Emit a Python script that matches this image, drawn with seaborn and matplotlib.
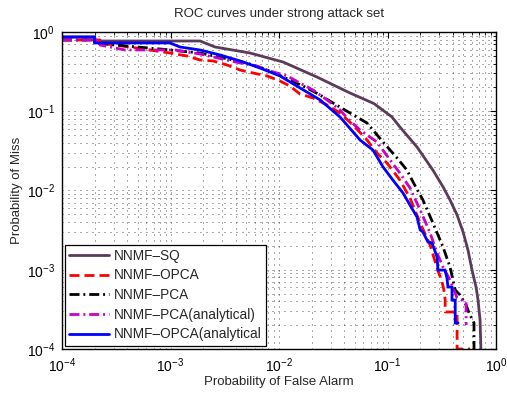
import matplotlib
matplotlib.use("Agg")
import matplotlib.pyplot as plt
import seaborn as sns
import pandas as pd

# ROC operating points: probability of false alarm vs probability of miss
sq_fa = [1e-4, 2.0e-4, 2.0e-4, 1.87e-3, 2.57e-3, 5.4e-3, 0.0109, 0.0224, 0.0451, 0.075,
         0.110, 0.130, 0.187, 0.262, 0.325, 0.377, 0.438, 0.497, 0.552, 0.601, 0.655,
         0.683, 0.713, 0.726]
sq_miss = [0.865, 0.865, 0.77, 0.77, 0.647, 0.543, 0.418, 0.270, 0.170, 0.125,
           0.0846, 0.0633, 0.0354, 0.0181, 0.0111, 0.00759, 0.0049, 0.0030, 0.00177,
           0.00099, 0.000605, 0.000415, 0.000232, 1e-4]

opca_fa = [1e-4, 2.24e-4, 2.24e-4, 5.6e-4, 9.9e-4, 1.42e-3, 1.87e-3, 2.47e-3, 3.32e-3,
           4.38e-3, 5.75e-3, 7.74e-3, 0.0102, 0.0126, 0.0156, 0.0206, 0.0277, 0.0365,
           0.0481, 0.0647, 0.080, 0.0988, 0.130, 0.161, 0.200, 0.247, 0.286, 0.318,
           0.331, 0.340, 0.340, 0.438, 0.438, 0.575]
opca_miss = [0.793, 0.793, 0.727, 0.61, 0.543, 0.498, 0.443, 0.431, 0.383,
             0.331, 0.304, 0.279, 0.241, 0.208, 0.165, 0.147, 0.120, 0.095,
             0.067, 0.0434, 0.0297, 0.0222, 0.01356, 0.00804, 0.00389, 0.00205, 0.00105, 0.0007,
             0.000555, 0.00042, 0.000293, 0.000293, 1e-4, 1e-4]

pca_fa = [1e-4, 2.0e-4, 2.0e-4, 4.9e-4, 8.0e-4, 1.87e-3, 5.07e-3, 8.26e-3, 0.0126, 0.0181,
          0.0239, 0.0315, 0.0451, 0.0647, 0.091, 0.1225, 0.151, 0.172, 0.212, 0.262,
          0.325, 0.377, 0.421, 0.466, 0.530, 0.564, 0.627, 0.627]
pca_miss = [0.793, 0.793, 0.727, 0.647, 0.61, 0.543, 0.406, 0.322, 0.248, 0.197,
            0.160, 0.127, 0.095, 0.0711, 0.0409, 0.0257, 0.0181, 0.0128, 0.00759, 0.00389,
            0.00194, 0.00108, 0.000555, 0.00048, 0.000359, 0.000285, 0.000213, 1e-4]

pca_an_fa = [1e-4, 2.24e-4, 2.24e-4, 3.81e-4, 1.1e-3, 1.87e-3, 4.38e-3, 6.27e-3, 8.26e-3,
             0.0119, 0.0156, 0.0206, 0.0277, 0.0365, 0.0424, 0.0558, 0.080, 0.1055,
             0.130, 0.161, 0.200, 0.247, 0.286, 0.325, 0.377, 0.438, 0.530, 0.530]
pca_an_miss = [0.793, 0.793, 0.685, 0.593, 0.593, 0.527, 0.406, 0.372, 0.322,
               0.279, 0.227, 0.185, 0.139, 0.104, 0.0822, 0.058, 0.0409, 0.0243,
               0.0166, 0.0108, 0.00568, 0.00291, 0.00163, 0.00108, 0.000743, 0.00044, 0.00039,
               0.000201]

opca_an_fa = [1e-4, 2.0e-4, 2.0e-4, 9.9e-4, 1.22e-3, 1.87e-3, 2.86e-3, 4.38e-3, 6.68e-3,
              0.0102, 0.0156, 0.0239, 0.0365, 0.0558, 0.0734, 0.091, 0.112, 0.139, 0.161,
              0.187, 0.200, 0.212, 0.236, 0.257, 0.286, 0.292, 0.339, 0.353, 0.361, 0.393,
              0.393, 0.421, 0.421, 0.447]
opca_an_miss = [0.865, 0.865, 0.727, 0.727, 0.647, 0.593, 0.513, 0.431, 0.351,
                0.279, 0.197, 0.139, 0.0846, 0.0434, 0.0324, 0.0198, 0.01356, 0.00929, 0.00656,
                0.00463, 0.00318, 0.00299, 0.00224, 0.00218, 0.00145, 0.00099, 0.00099, 0.000787,
                0.000605, 0.000605, 0.000415, 0.000415, 0.000213, 0.000213]

labels = ["NNMF\u2013SQ", "NNMF\u2013OPCA", "NNMF\u2013PCA",
          "NNMF\u2013PCA(analytical)", "NNMF\u2013OPCA(analytical"]
colors = ["#5C3A5A", "#FF0000", "#000000", "#C800C8", "#0000FF"]
dash_styles = [None, (3.6, 1.8), (3.6, 1.4, 0.7, 1.4), (3.6, 1.4, 0.7, 1.4), None]

series = [(sq_fa, sq_miss), (opca_fa, opca_miss), (pca_fa, pca_miss),
          (pca_an_fa, pca_an_miss), (opca_an_fa, opca_an_miss)]

sns.set_style("white")
plt.rcParams["font.family"] = ["Liberation Sans", "DejaVu Sans"]
plt.rcParams["mathtext.fontset"] = "custom"
plt.rcParams["mathtext.rm"] = "Liberation Sans"
plt.rcParams["mathtext.it"] = "Liberation Sans:italic"

fig = plt.figure(figsize=(5.07, 3.93), dpi=100)
ax = fig.add_axes([0.1223, 0.1120, 0.8560, 0.8066])

for (fa, pm), lab, col, dsh in zip(series, labels, colors, dash_styles):
    df = pd.DataFrame({"fa": fa, "pm": pm})
    sns.lineplot(data=df, x="fa", y="pm", ax=ax, estimator=None, sort=False,
                 color=col, lw=2.0, label=lab, legend=False)
    line = ax.lines[-1]
    if dsh is not None:
        line.set_dashes(dsh)
    line.set_solid_joinstyle("miter")

ax.set_xscale("log")
ax.set_yscale("log")
ax.set_xlim(1e-4, 1)
ax.set_ylim(1e-4, 1)

ax.grid(True, which="both", color="#333333", lw=0.6, ls=(0, (1.2, 6)))
ax.tick_params(which="both", direction="in", top=True, right=True,
               labelsize=10, colors="black")
ax.tick_params(which="major", length=4, width=0.8, pad=5)
ax.tick_params(which="minor", length=2, width=0.6)
for s in ax.spines.values():
    s.set_color("black")
    s.set_linewidth(1.0)

ax.set_title("ROC curves under strong attack set", fontsize=9.5, pad=11)
ax.set_xlabel("Probability of False Alarm", fontsize=9.5, labelpad=1)
ax.set_ylabel("Probability of Miss", fontsize=9.5, labelpad=3)

leg = ax.legend(loc="lower left", fontsize=9.8, frameon=True, fancybox=False,
                framealpha=1, edgecolor="black", handlelength=2.9,
                handletextpad=0.35, labelspacing=0.42, borderaxespad=0.25,
                borderpad=0.3)
leg.get_frame().set_linewidth(0.9)

fig.savefig("out.png", dpi=100)
